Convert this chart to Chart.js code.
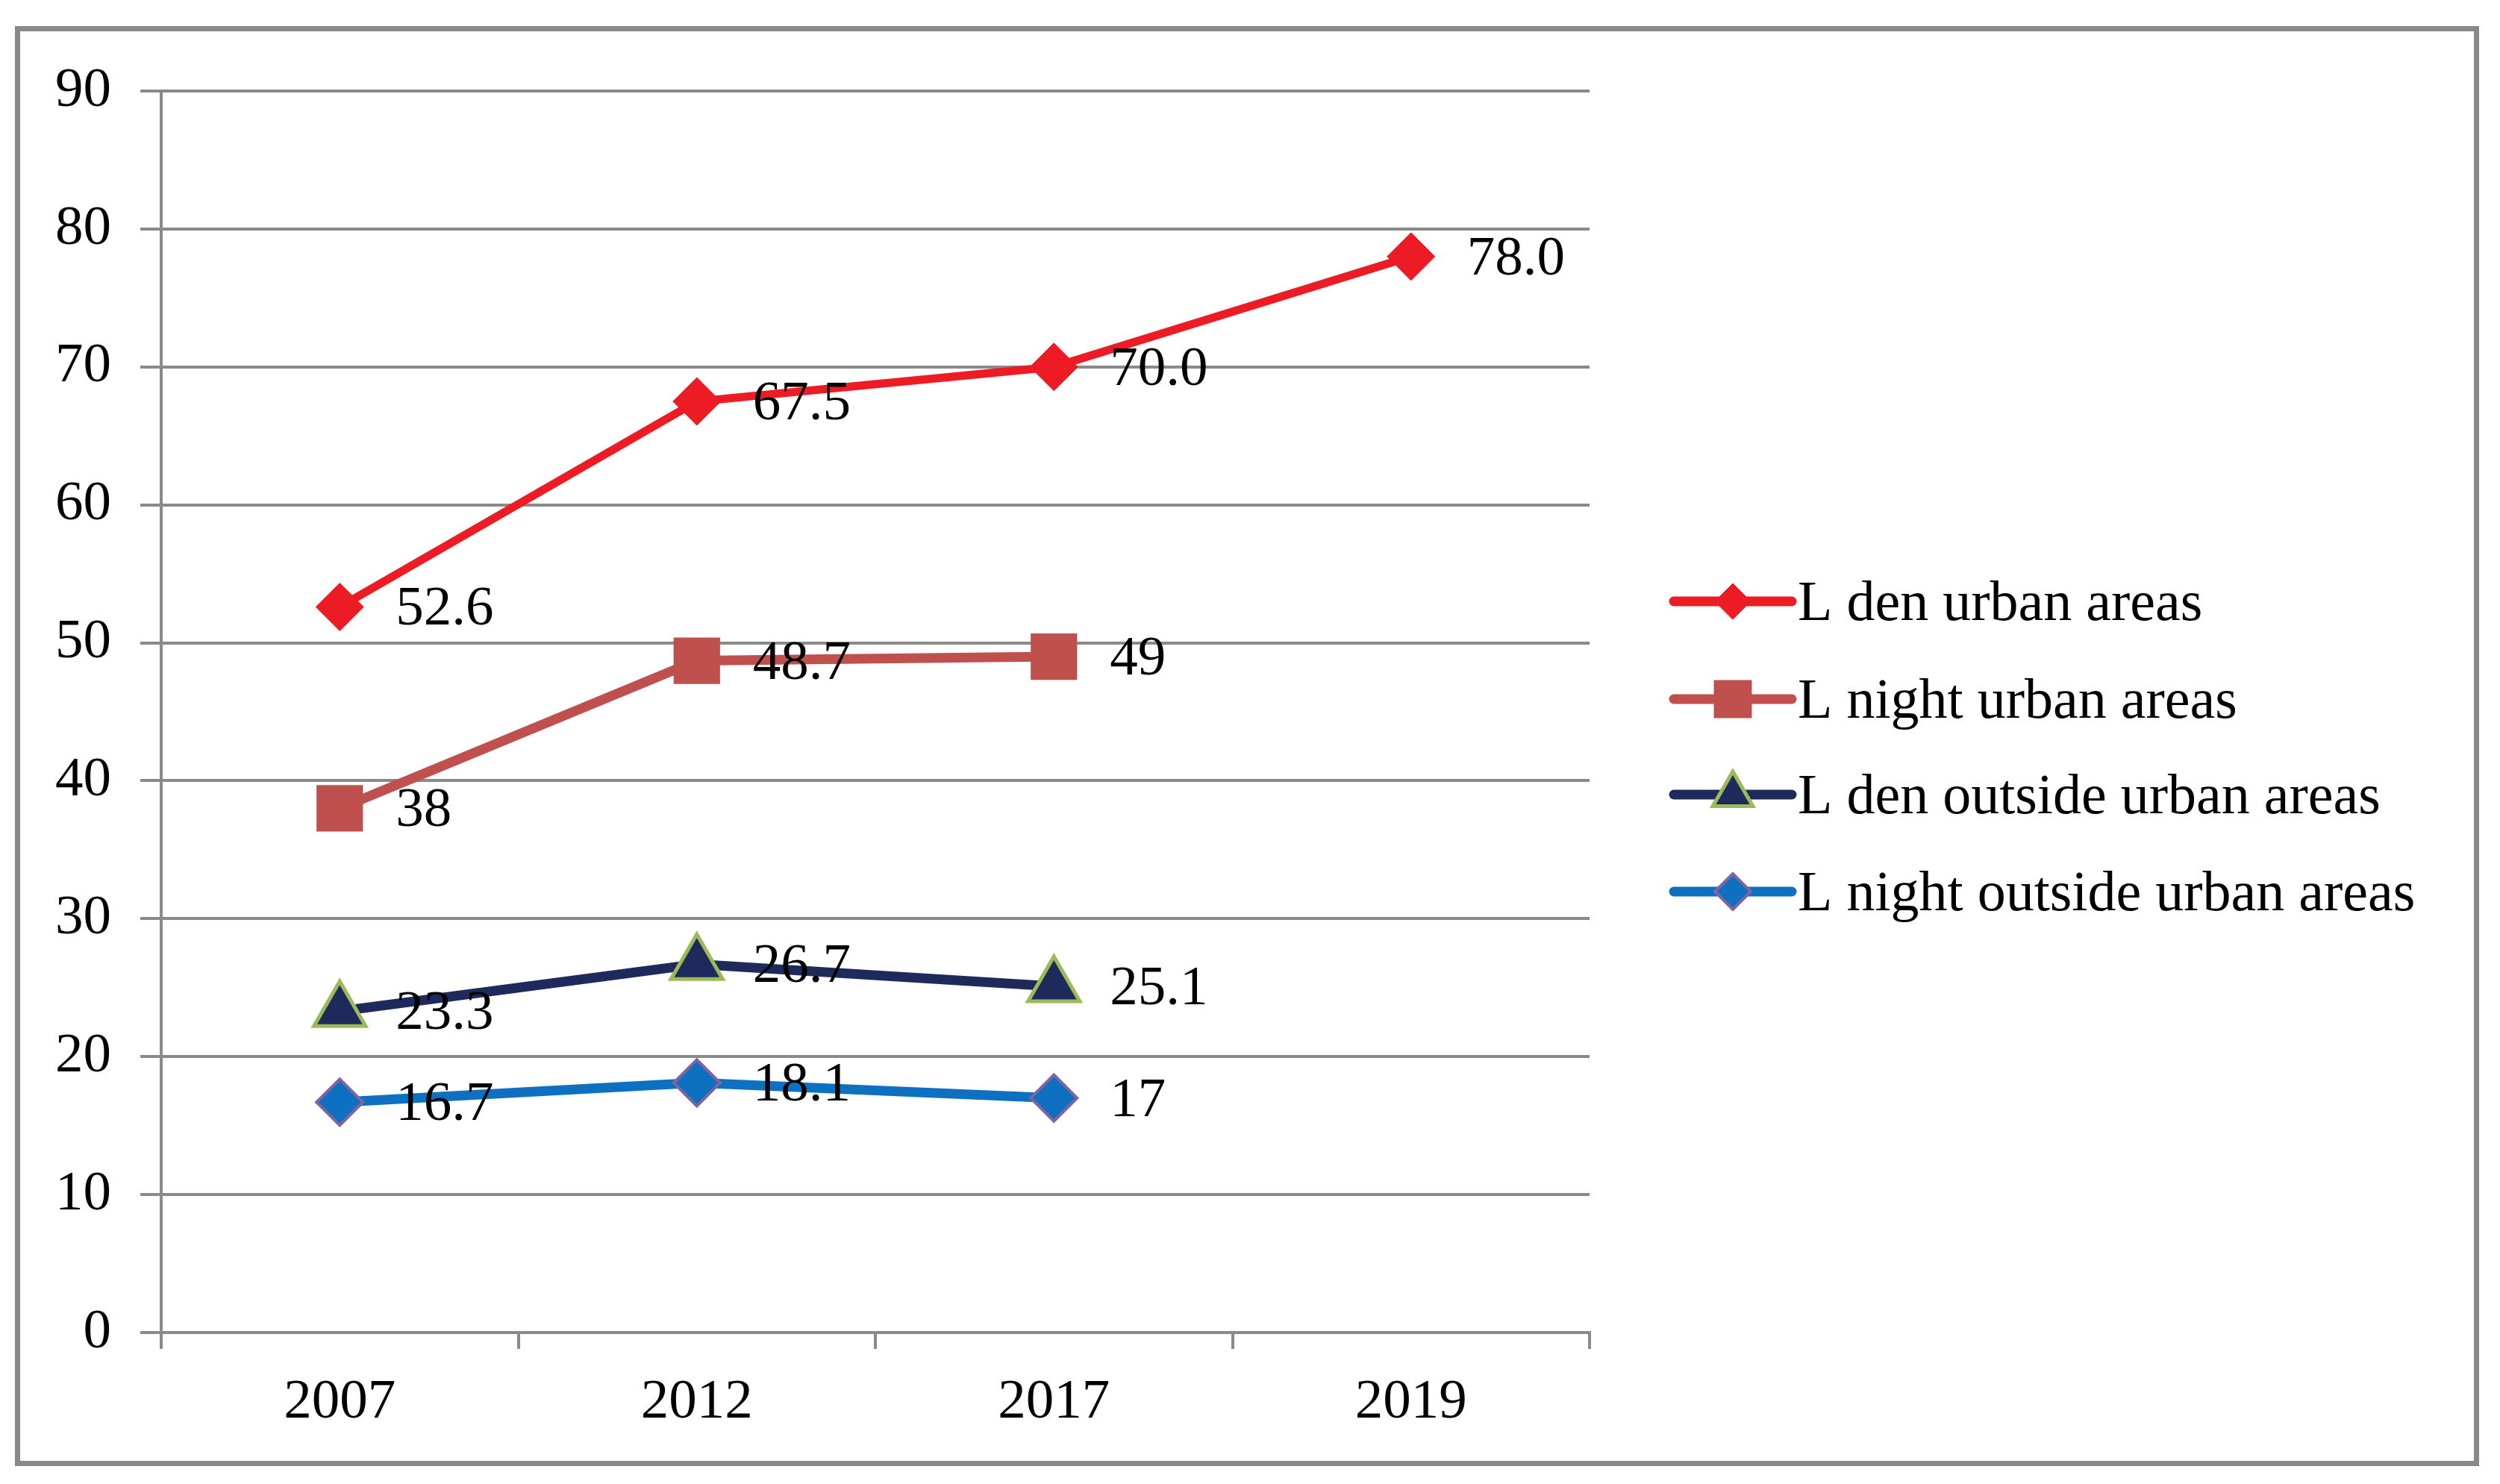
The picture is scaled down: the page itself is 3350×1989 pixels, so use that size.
<!DOCTYPE html>
<html>
<head>
<meta charset="utf-8">
<script src="https://cdn.jsdelivr.net/npm/chart.js@4.4.1/dist/chart.umd.min.js"></script>
<style>
  html, body { margin: 0; padding: 0; background: #fff; }
  #noise_chart { display: block; }
</style>
</head>
<body>
<canvas id="noise_chart" width="3350" height="1989"></canvas>
<script>
// categories and values
const years = ['2007', '2012', '2017', '2019'];

const lDenUrban = [52.6, 67.5, 70.0, 78.0];
const lDenUrbanText = ['52.6', '67.5', '70.0', '78.0'];

const lNightUrban = [38, 48.7, 49, null];
const lNightUrbanText = ['38', '48.7', '49', ''];

const lDenOutside = [23.3, 26.7, 25.1, null];
const lDenOutsideText = ['23.3', '26.7', '25.1', ''];

const lNightOutside = [16.7, 18.1, 17, null];
const lNightOutsideText = ['16.7', '18.1', '17', ''];

const seriesNames = ['L den urban areas', 'L night urban areas', 'L den outside urban areas', 'L night outside urban areas'];

const fontFamily = '"Liberation Serif", "Times New Roman", serif';
const gridGrey = '#8a8a8a';

const ctx = document.getElementById('noise_chart');

function drawMarker(c, style, x, y, r, fill, stroke, lw) {
  c.beginPath();
  if (style == 'rectRot') {
    c.moveTo(x - r, y);
    c.lineTo(x, y - r);
    c.lineTo(x + r, y);
    c.lineTo(x, y + r);
  } else if (style == 'rect') {
    let s = r * Math.SQRT1_2;
    c.rect(x - s, y - s, 2 * s, 2 * s);
  } else {
    c.moveTo(x, y - r);
    c.lineTo(x + r * 0.866, y + r * 0.5);
    c.lineTo(x - r * 0.866, y + r * 0.5);
  }
  c.closePath();
  c.fillStyle = fill;
  c.fill();
  if (lw > 0) {
    c.lineWidth = lw;
    c.strokeStyle = stroke;
    c.lineJoin = 'miter';
    c.stroke();
  }
}

// outer frame, value labels and the legend with line + marker
const decorations = {
  id: 'decorations',
  afterDatasetsDraw(chart) {
    const c = chart.ctx;
    c.save();
    c.font = '75px ' + fontFamily;
    c.fillStyle = '#000';
    c.textAlign = 'left';
    c.textBaseline = 'alphabetic';
    chart.data.datasets.forEach((ds, i) => {
      const meta = chart.getDatasetMeta(i);
      meta.data.forEach((pt, j) => {
        if (ds.data[j] == null) return;
        c.fillText(ds.valueText[j], pt.x + 75, pt.y + 24);
      });
    });
    c.restore();
  },
  afterDraw(chart) {
    const c = chart.ctx;
    c.save();
    c.lineWidth = 7;
    c.strokeStyle = '#898989';
    c.strokeRect(23.5, 38.5, 3295, 1923);

    const lx = 2243, lw = 158, rowY = [806, 937, 1065, 1195];
    chart.data.datasets.forEach((ds, i) => {
      const y = rowY[i];
      c.beginPath();
      c.moveTo(lx, y);
      c.lineTo(lx + lw, y);
      c.lineWidth = 13;
      c.lineCap = 'round';
      c.strokeStyle = ds.borderColor;
      c.stroke();
      drawMarker(c, ds.pointStyle, lx + lw / 2, y, ds.legendRadius,
        ds.pointBackgroundColor, ds.pointBorderColor, ds.pointBorderWidth);
      c.font = '76px ' + fontFamily;
      c.fillStyle = '#000';
      c.textAlign = 'left';
      c.textBaseline = 'alphabetic';
      c.fillText(ds.label, lx + lw + 8, y + 25);
    });
    c.restore();
  }
};

new Chart(ctx, {
  type: 'line',
  data: {
    labels: years,
    datasets: [
      {
        label: seriesNames[0], data: lDenUrban, valueText: lDenUrbanText,
        borderColor: '#ed1c24', borderWidth: 11,
        pointStyle: 'rectRot', pointRadius: 32, legendRadius: 24,
        pointBackgroundColor: '#ed1c24', pointBorderColor: '#ed1c24', pointBorderWidth: 1
      },
      {
        label: seriesNames[1], data: lNightUrban, valueText: lNightUrbanText,
        borderColor: '#c0504d', borderWidth: 13,
        pointStyle: 'rect', pointRadius: 44, legendRadius: 36,
        pointBackgroundColor: '#c0504d', pointBorderColor: '#c0504d', pointBorderWidth: 0
      },
      {
        label: seriesNames[2], data: lDenOutside, valueText: lDenOutsideText,
        borderColor: '#1f2a5c', borderWidth: 13,
        pointStyle: 'triangle', pointRadius: 40, legendRadius: 31,
        pointBackgroundColor: '#1f2a5c', pointBorderColor: '#9bbb59', pointBorderWidth: 5
      },
      {
        label: seriesNames[3], data: lNightOutside, valueText: lNightOutsideText,
        borderColor: '#0e70c0', borderWidth: 13,
        pointStyle: 'rectRot', pointRadius: 31, legendRadius: 24,
        pointBackgroundColor: '#0e70c0', pointBorderColor: '#8064a2', pointBorderWidth: 4
      }
    ]
  },
  options: {
    responsive: false,
    devicePixelRatio: 1,
    animation: false,
    events: [],
    spanGaps: false,
    elements: { line: { tension: 0 } },
    layout: {
      padding: { left: 74, right: 1220, top: 122, bottom: 53 }
    },
    plugins: {
      legend: { display: false },
      title: { display: false },
      tooltip: { enabled: false }
    },
    scales: {
      x: {
        offset: true,
        grid: {
          offset: true,
          drawOnChartArea: false,
          drawTicks: true,
          tickLength: 22,
          color: gridGrey,
          lineWidth: 4
        },
        border: { display: true, color: gridGrey, width: 4 },
        ticks: {
          color: '#000',
          padding: 27,
          maxRotation: 0,
          font: { family: fontFamily, size: 75 }
        },
        afterFit(s) { s.height = 150; }
      },
      y: {
        min: 0,
        max: 90,
        grid: {
          color: gridGrey,
          lineWidth: 4,
          drawTicks: true,
          tickLength: 28
        },
        border: { display: true, color: gridGrey, width: 4 },
        ticks: {
          stepSize: 10,
          color: '#000',
          padding: 39,
          font: { family: fontFamily, size: 75 }
        },
        afterFit(s) { s.width = 142; }
      }
    }
  },
  plugins: [decorations]
});
</script>
</body>
</html>
